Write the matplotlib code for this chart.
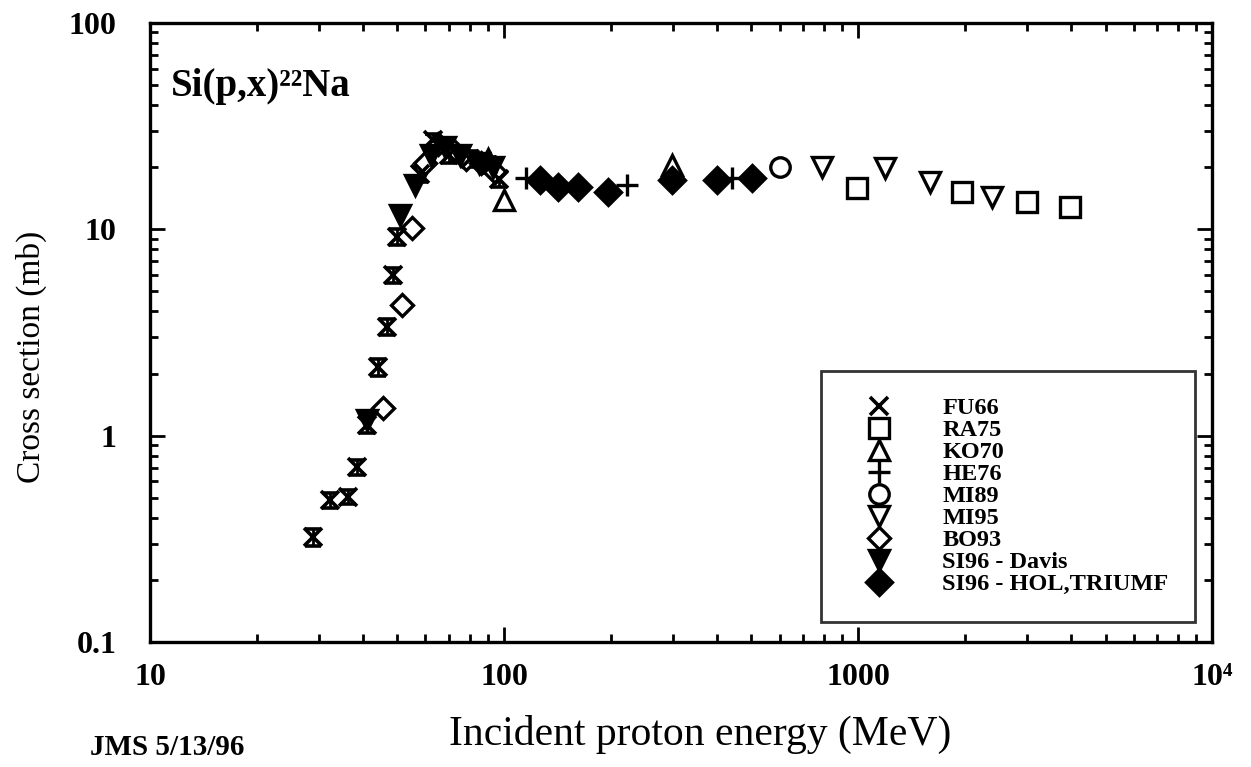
import matplotlib
matplotlib.use("Agg")
import matplotlib.pyplot as plt

plt.rcParams['font.family'] = ['Liberation Serif', 'DejaVu Serif']

# data (energy in MeV, cross section in mb)
fu66_e = [28.8, 32.3, 36.2, 38.5, 41.0, 44.1, 46.7, 48.5, 49.9, 58, 63, 70, 80, 90, 97]
fu66_s = [0.323, 0.488, 0.504, 0.705, 1.13, 2.15, 3.36, 6.0, 9.2, 18.5, 27, 23, 22, 20.5, 17.5]
fu66_err = [0.03, 0.04, 0.04, 0.06, 0.1, 0.2, 0.3, 0.5, 0.8, 1.5, 2.0, 2.0, 2.0, 1.8, 1.5]

ra75_e = [994, 1968, 3000, 3972]
ra75_s = [15.9, 15.2, 13.6, 12.8]

ko70_e = [90, 100, 299]
ko70_s = [22, 13.9, 20.5]

he76_e = [115, 222, 440]
he76_s = [17.7, 16.4, 17.7]

mi89_e = [603]
mi89_s = [20.0]

mi95_e = [791, 1191, 1596, 2393]
mi95_s = [20.0, 19.8, 16.9, 14.3]

bo93_e = [45.5, 51.5, 55.0, 60, 65, 72, 78, 86, 94]
bo93_s = [1.36, 4.3, 10.1, 21, 26, 24, 22, 21, 19]

davis_e = [41.0, 50.8, 56.1, 62, 68, 75, 85, 93]
davis_s = [1.19, 11.7, 16.4, 23, 25, 23, 21, 20]

hol_e = [126, 142, 162, 197, 299, 400, 501]
hol_s = [17.3, 16.0, 16.0, 15.2, 17.3, 17.3, 17.7]

legend_labels = ["FU66", "RA75", "KO70", "HE76", "MI89", "MI95", "BO93",
                 "SI96 - Davis", "SI96 - HOL,TRIUMF"]

fig = plt.figure(figsize=(12.51, 7.67), dpi=100)
ax = fig.add_axes([0.1199, 0.163, 0.849, 0.807])

mk = dict(linestyle="none", markeredgecolor="black", markeredgewidth=2.4)
h_fu = ax.errorbar(fu66_e, fu66_s, yerr=fu66_err, fmt="x", color="black", ms=13,
                   mew=2.6, capsize=6, elinewidth=2, capthick=2.5)
h_ra, = ax.plot(ra75_e, ra75_s, "s", ms=14, mfc="white", **mk)
h_ko, = ax.plot(ko70_e, ko70_s, "^", ms=14, mfc="white", **mk)
h_he, = ax.plot(he76_e, he76_s, "+", ms=16, color="black", **mk)
h_mi89, = ax.plot(mi89_e, mi89_s, "o", ms=14, mfc="white", **mk)
h_mi95, = ax.plot(mi95_e, mi95_s, "v", ms=14, mfc="white", **mk)
h_bo, = ax.plot(bo93_e, bo93_s, "D", ms=11, mfc="white", **mk)
h_dav, = ax.plot(davis_e, davis_s, "v", ms=15, mfc="black", **mk)
h_hol, = ax.plot(hol_e, hol_s, "D", ms=13, mfc="black", **mk)

ax.set_xscale("log")
ax.set_yscale("log")
ax.set_xlim(10, 1e4)
ax.set_ylim(0.1, 100)

ax.set_xticks([10, 100, 1000, 1e4])
ax.set_xticklabels(["10", "100", "1000", "10\u2074"])
ax.set_yticks([0.1, 1, 10, 100])
ax.set_yticklabels(["0.1", "1", "10", "100"])

ax.tick_params(which="both", direction="in", top=True, right=True, width=2)
ax.tick_params(which="major", length=11)
ax.tick_params(which="minor", length=6)
ax.tick_params(axis="x", which="major", pad=15, labelsize=23)
ax.tick_params(axis="y", which="major", pad=24, labelsize=23)
for lab in ax.get_xticklabels() + ax.get_yticklabels():
    lab.set_fontweight("bold")
for sp in ax.spines.values():
    sp.set_linewidth(2.4)

ax.set_xlabel("Incident proton energy (MeV)", fontsize=30)
ax.xaxis.set_label_coords(0.518, -0.118)
ax.set_ylabel("Cross section (mb)", fontsize=24)
ax.yaxis.set_label_coords(-0.097, 0.46)

ax.text(0.02, 0.897, "Si(p,x)\u00b2\u00b2Na", transform=ax.transAxes,
        fontsize=28, fontweight="bold", va="center", ha="left")
fig.text(0.072, 0.026, "JMS 5/13/96", fontsize=21, fontweight="bold",
         va="center", ha="left")

handles = [h_fu[0], h_ra, h_ko, h_he, h_mi89, h_mi95, h_bo, h_dav, h_hol]
leg = ax.legend(handles, legend_labels, loc="lower right",
                bbox_to_anchor=(0.984, 0.032),
                prop={"weight": "bold", "size": 17.5}, frameon=True,
                fancybox=False, edgecolor="black", labelspacing=0.0,
                borderpad=1.1, handletextpad=1.3, borderaxespad=0,
                handlelength=2.6, numpoints=1, markerscale=1.0)
leg.get_frame().set_linewidth(2)

fig.savefig("out.png", dpi=100)
